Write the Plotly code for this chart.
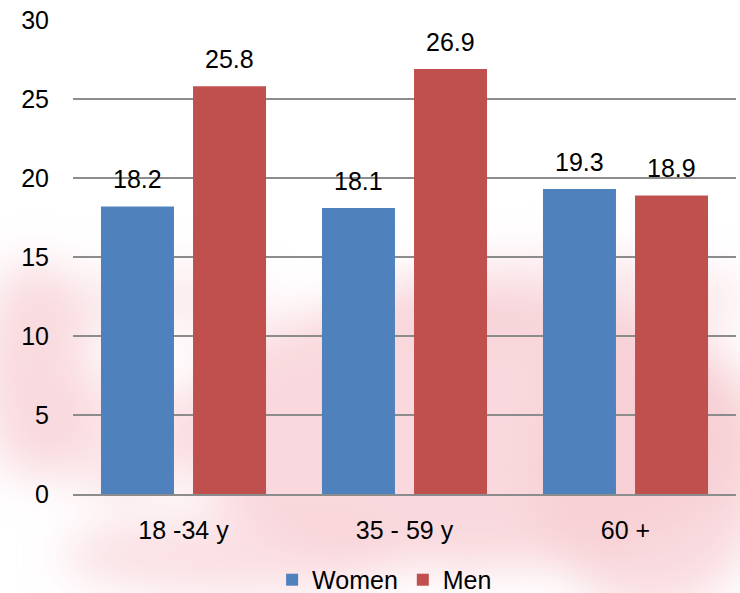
import base64
import plotly.graph_objects as go

categories = ["18 -34 y", "35 - 59 y", "60 +"]
women = [18.2, 18.1, 19.3]
men = [25.8, 26.9, 18.9]
y_ticks = [0, 5, 10, 15, 20, 25, 30]

FONT = "Liberation Sans, Arial, sans-serif"
FS = 25
BLUE = "#4f81bd"
RED = "#c0504d"

fig = go.Figure()
fig.add_trace(go.Bar(name="Women", x=categories, y=women, marker=dict(color=BLUE, line=dict(width=0))))
fig.add_trace(go.Bar(name="Men", x=categories, y=men, marker=dict(color=RED, line=dict(width=0))))

# decorative blurred pink background (watermark look)
blobs = [
    (470, 430, 290, 140, 0.75),
    (650, 470, 120, 140, 0.7),
    (35, 370, 55, 110, 0.7),
    (230, 555, 170, 40, 0.6),
    (560, 300, 190, 45, 0.45),
    (160, 300, 110, 35, 0.35),
    (120, 440, 70, 60, 0.5),
]
ell = "".join(
    f'<ellipse cx="{cx}" cy="{cy}" rx="{rx}" ry="{ry}" fill="#f7ccd2" fill-opacity="{op}"/>'
    for cx, cy, rx, ry, op in blobs
)
svg = ('<svg xmlns="http://www.w3.org/2000/svg" width="740" height="593" viewBox="0 0 740 593">'
       '<defs><filter id="b" x="-50%" y="-50%" width="200%" height="200%">'
       '<feGaussianBlur stdDeviation="22"/></filter></defs>'
       f'<g filter="url(#b)">{ell}</g></svg>')
src = "data:image/svg+xml;base64," + base64.b64encode(svg.encode()).decode()

annotations = []
for i, c in enumerate(categories):
    for vals, off in ((women, -0.5), (men, 0.5)):
        annotations.append(dict(x=c, y=vals[i], xref="x", yref="y", text=f"{vals[i]:.1f}",
                                showarrow=False, yanchor="bottom", yshift=11, xshift=off * 92,
                                font=dict(family=FONT, size=FS, color="#000")))

fig.update_layout(
    width=740, height=593,
    margin=dict(l=73, r=4, t=20, b=99, autoexpand=False),
    paper_bgcolor="white", plot_bgcolor="rgba(0,0,0,0)",
    font=dict(family=FONT, size=FS, color="#000"),
    barmode="group", bargap=0.167, bargroupgap=0.207,
    showlegend=True,
    legend=dict(orientation="h", x=0.47, xanchor="center", yref="container", y=0.022,
                yanchor="middle", font=dict(family=FONT, size=FS), itemwidth=30,
                traceorder="normal", bgcolor="rgba(0,0,0,0)"),
    images=[dict(source=src, xref="paper", yref="paper", x=-73 / 663, y=1 + 20 / 474,
                 sizex=740 / 663, sizey=593 / 474, sizing="stretch", xanchor="left",
                 yanchor="top", layer="below")],
    annotations=annotations,
)
fig.update_yaxes(range=[0, 30], tickvals=y_ticks, showgrid=True, gridcolor="#8c8c8c", gridwidth=1.5,
                 zeroline=False, showline=False, ticks="", ticklabelstandoff=23,
                 tickfont=dict(family=FONT, size=FS))
fig.update_xaxes(showline=True, linecolor="#8c8c8c", linewidth=1.5, ticks="", ticklabelstandoff=13,
                 tickfont=dict(family=FONT, size=FS))

fig.write_html("out.html", config={"displayModeBar": False},
               post_script="document.body.style.margin='0';")
